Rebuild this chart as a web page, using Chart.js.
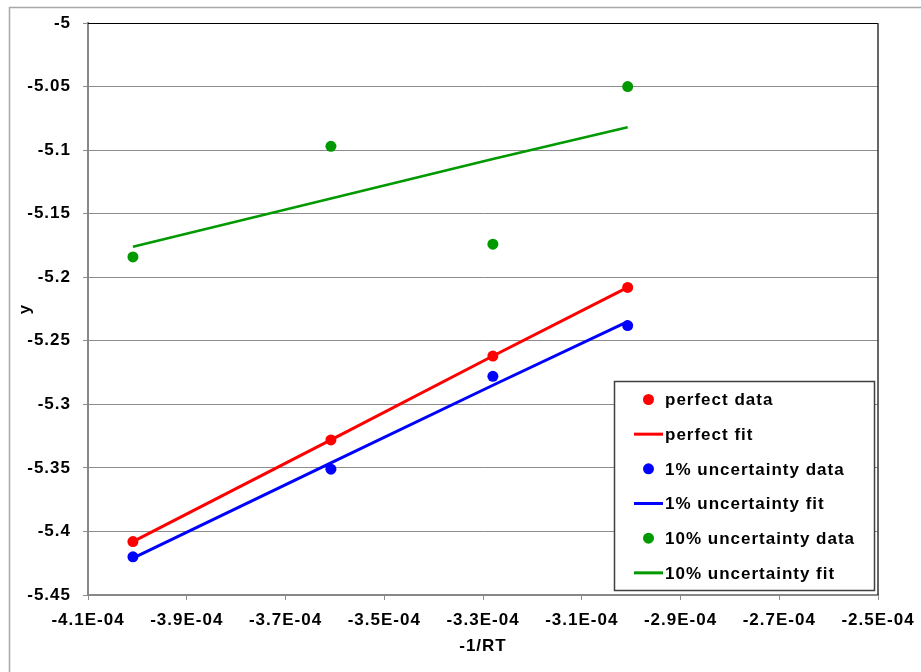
<!DOCTYPE html>
<html><head><meta charset="utf-8">
<script src="https://cdn.jsdelivr.net/npm/chart.js@4/dist/chart.umd.min.js"></script>
<style>html,body{margin:0;padding:0;background:#fff;}#wrap{width:921px;height:672px;}</style>
</head><body><div id="wrap"><canvas id="c" width="921" height="672"></canvas></div>
<script>
// ---- data ----
const xTickValues = [-4.1e-4, -3.9e-4, -3.7e-4, -3.5e-4, -3.3e-4, -3.1e-4, -2.9e-4, -2.7e-4, -2.5e-4];
const xTickLabels = ['-4.1E-04', '-3.9E-04', '-3.7E-04', '-3.5E-04', '-3.3E-04', '-3.1E-04', '-2.9E-04', '-2.7E-04', '-2.5E-04'];
const yTickValues = [-5, -5.05, -5.1, -5.15, -5.2, -5.25, -5.3, -5.35, -5.4, -5.45];
const yTickLabels = ['-5', '-5.05', '-5.1', '-5.15', '-5.2', '-5.25', '-5.3', '-5.35', '-5.4', '-5.45'];
const xInvRT = [-4.009e-4, -3.608e-4, -3.280e-4, -3.007e-4];
const perfectData = [-5.408, -5.328, -5.262, -5.208];
const perfectFit = [-5.408, -5.328, -5.262, -5.208];
const unc1Data = [-5.420, -5.351, -5.278, -5.238];
const unc1Fit = [-5.421, -5.346, -5.285, -5.235];
const unc10Data = [-5.184, -5.097, -5.174, -5.050];
const unc10Fit = [-5.176, -5.138, -5.107, -5.082];
const seriesLabels = ['perfect data', 'perfect fit', '1% uncertainty data', '1% uncertainty fit', '10% uncertainty data', '10% uncertainty fit'];
const xTitle = '-1/RT';
const yTitle = 'y';

const RED = '#ff0000', BLUE = '#0000ff', GREEN = '#009900';
const FONT = "'Liberation Sans', Arial, sans-serif";
const pts = ys => xInvRT.map((x, i) => ({x: x, y: ys[i]}));

function dataSet(label, ys, color) {
  return {label, data: pts(ys), showLine: false, pointRadius: 5.5, pointHoverRadius: 5.5,
    pointBackgroundColor: color, pointBorderColor: color, pointBorderWidth: 0, backgroundColor: color, borderColor: color, isFit: false};
}
function fitSet(label, ys, color, w) {
  return {label, data: pts(ys), showLine: true, pointRadius: 0, pointHoverRadius: 0,
    borderColor: color, backgroundColor: color, borderWidth: w, fill: false, tension: 0, isFit: true};
}

const spacing = {
  id: 'spacing',
  beforeInit(c) { c.ctx.letterSpacing = '1px'; },
  beforeUpdate(c) { c.ctx.letterSpacing = '1px'; },
  beforeLayout(c) { c.ctx.letterSpacing = '1px'; },
  beforeDraw(c) {
    const ctx = c.ctx;
    ctx.letterSpacing = '1px';
    ctx.save();
    ctx.strokeStyle = '#a8a8a8';
    ctx.lineWidth = 1.5;
    ctx.beginPath();
    ctx.moveTo(9.5, 680); ctx.lineTo(9.5, 7.5); ctx.lineTo(930, 7.5);
    ctx.stroke();
    ctx.restore();
  }
};

const frame = {
  id: 'frame',
  beforeDatasetsDraw(c) {
    const ctx = c.ctx, a = c.chartArea;
    ctx.save();
    ctx.strokeStyle = '#000';
    ctx.lineWidth = 1;
    ctx.beginPath();
    ctx.moveTo(a.left, Math.round(a.top) + 0.5); ctx.lineTo(a.right, Math.round(a.top) + 0.5);
    ctx.stroke();
    ctx.strokeStyle = '#333';
    ctx.lineWidth = 1.5;
    ctx.beginPath();
    ctx.moveTo(a.right, a.top); ctx.lineTo(a.right, a.bottom);
    ctx.stroke();
    ctx.restore();
  }
};

const legendBox = {
  id: 'legendBox',
  afterDraw(c) {
    const ctx = c.ctx, a = c.chartArea;
    const bx = a.right - 264, by = a.bottom - 214, bw = 260, bh = 209;
    ctx.save();
    ctx.letterSpacing = '1px';
    ctx.fillStyle = '#fff';
    ctx.fillRect(bx, by, bw, bh);
    ctx.strokeStyle = '#404040';
    ctx.lineWidth = 1.5;
    ctx.strokeRect(bx + 0.5, by + 0.5, bw, bh);
    ctx.font = 'bold 17px ' + FONT;
    ctx.textBaseline = 'middle';
    ctx.textAlign = 'left';
    c.data.datasets.forEach((ds, i) => {
      const y = by + 18.5 + i * 34.67;
      const col = ds.borderColor;
      if (ds.isFit) {
        ctx.strokeStyle = col;
        ctx.lineWidth = 3;
        ctx.beginPath();
        ctx.moveTo(bx + 20, y); ctx.lineTo(bx + 49, y);
        ctx.stroke();
      } else {
        ctx.fillStyle = col;
        ctx.beginPath();
        ctx.arc(bx + 34.5, y, 5.5, 0, Math.PI * 2);
        ctx.fill();
      }
      ctx.fillStyle = '#000';
      ctx.fillText(ds.label, bx + 51, y + 1);
    });
    ctx.restore();
  }
};

new Chart(document.getElementById('c'), {
  type: 'scatter',
  data: {
    datasets: [
      dataSet(seriesLabels[0], perfectData, RED),
      fitSet(seriesLabels[1], perfectFit, RED, 3),
      dataSet(seriesLabels[2], unc1Data, BLUE),
      fitSet(seriesLabels[3], unc1Fit, BLUE, 3),
      dataSet(seriesLabels[4], unc10Data, GREEN),
      fitSet(seriesLabels[5], unc10Fit, GREEN, 2.5)
    ]
  },
  options: {
    responsive: false,
    animation: false,
    events: [],
    layout: {padding: {left: 0, top: 23, right: 43, bottom: 0}},
    plugins: {legend: {display: false}, tooltip: {enabled: false}},
    scales: {
      x: {
        type: 'linear', min: -4.1e-4, max: -2.5e-4,
        afterBuildTicks: ax => { ax.ticks = xTickValues.map(v => ({value: v})); },
        afterFit: ax => { ax.height = 77; ax.paddingLeft = 0; ax.paddingRight = 0; },
        grid: {drawOnChartArea: false, drawTicks: true, tickLength: 5, color: '#8c8c8c', lineWidth: 1},
        border: {display: true, color: '#888', width: 2},
        ticks: {callback: (v, i) => xTickLabels[i], maxRotation: 0, minRotation: 0, autoSkip: false, padding: 10,
          color: '#000', font: {family: FONT, size: 17, weight: 'bold'}},
        title: {display: true, text: xTitle, color: '#000', padding: {top: 0, bottom: 15},
          font: {family: FONT, size: 17, weight: 'bold'}}
      },
      y: {
        type: 'linear', min: -5.45, max: -5,
        afterBuildTicks: ax => { ax.ticks = yTickValues.map(v => ({value: v})); },
        afterFit: ax => { ax.width = 88; ax.paddingTop = 0; ax.paddingBottom = 0; },
        grid: {drawOnChartArea: true, drawTicks: true, tickLength: 5, color: '#8c8c8c', lineWidth: 1},
        border: {display: true, color: '#888', width: 2},
        ticks: {callback: (v, i) => yTickLabels[i], autoSkip: false, padding: 12,
          color: '#000', font: {family: FONT, size: 17, weight: 'bold'}},
        title: {display: true, text: yTitle, color: '#000', padding: {top: 15, bottom: 0},
          font: {family: FONT, size: 17, weight: 'bold'}}
      }
    }
  },
  plugins: [spacing, frame, legendBox]
});
</script></body></html>
